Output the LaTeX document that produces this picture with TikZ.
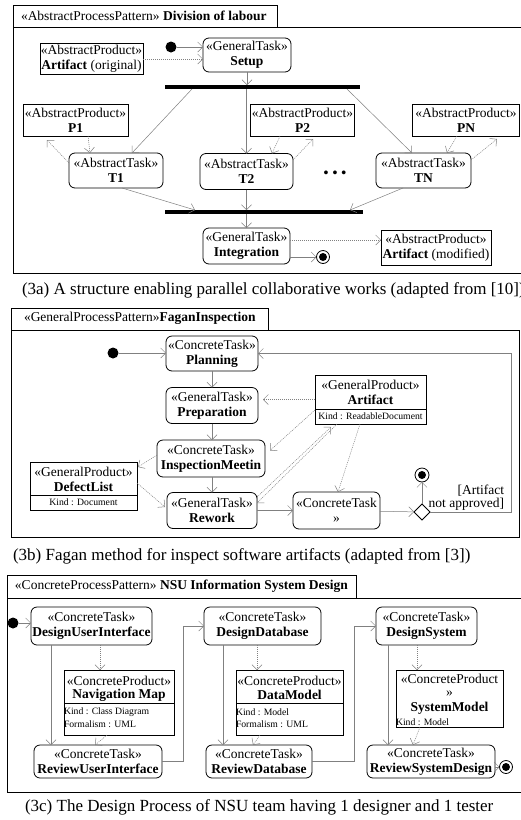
\documentclass[tikz,border=0pt]{standalone}
\usepackage{fontspec}
\setmainfont{Liberation Serif}
\usetikzlibrary{arrows.meta,shapes.geometric,calc}

\begin{document}
\begin{tikzpicture}[x=1pt,y=-1pt,
  every node/.style={inner sep=0pt, outer sep=0pt},
  lbl/.style={font=\fontsize{13.5}{15}\selectfont},
  task/.style={draw, line width=0.8pt, rounded corners=6pt, align=center, lbl},
  prod/.style={draw, line width=0.8pt},
  small/.style={font=\fontsize{9.7}{11}\selectfont},
  flow/.style={draw=gray, line width=0.5pt, -{Straight Barb[length=5pt,width=10pt]}},
  dep/.style={flow, dash pattern=on 1pt off 1pt},
  bar/.style={fill=black, minimum height=4pt},
  initial/.style={circle, fill=black, minimum size=11pt},
  final/.style={circle, draw, line width=0.8pt, minimum size=13pt,
    path picture={\fill (path picture bounding box.center) circle (4pt);}},
  frameline/.style={draw, line width=0.8pt},
  caption/.style={font=\fontsize{17}{20}\selectfont, anchor=west},
  header/.style={lbl, anchor=west},
]
\useasboundingbox (0,0) rectangle (521,820);
\fill[white] (0,0) rectangle (521,820);

% ---------------- (3a) Division of labour ----------------
\draw[frameline] (13,5) rectangle (277,27);
\draw[frameline] (13,27) rectangle (530,273);
\node[header] (hdrA) at (21,16) {«AbstractProcessPattern» \textbf{Division of labour}};

\node[initial] (initA) at (171,47) {};
\node[task, minimum width=88pt, minimum height=34pt] (setup) at (247,55) {«GeneralTask»\\\textbf{Setup}};
\node[prod, lbl, align=center, minimum width=103pt, minimum height=31pt] (artO) at (91.5,59) {«AbstractProduct»\\\textbf{Artifact} (original)};
\node[bar, minimum width=195pt] (fork) at (262.5,87) {};

\node[prod, lbl, align=center, minimum width=105pt, minimum height=32pt] (p1) at (75.5,120) {«AbstractProduct»\\\textbf{P1}};
\node[prod, lbl, align=center, minimum width=104pt, minimum height=32pt] (p2) at (302.5,120) {«AbstractProduct»\\\textbf{P2}};
\node[prod, lbl, align=center, minimum width=107pt, minimum height=32pt] (pn) at (466,120) {«AbstractProduct»\\\textbf{PN}};

\node[task, minimum width=94pt, minimum height=35pt] (t1) at (116,170.5) {«AbstractTask»\\\textbf{T1}};
\node[task, minimum width=93pt, minimum height=36pt] (t2) at (246.5,171.5) {«AbstractTask»\\\textbf{T2}};
\node[task, minimum width=95pt, minimum height=35pt] (tn) at (423.5,170.5) {«AbstractTask»\\\textbf{TN}};
\node[font=\fontsize{14}{14}\selectfont\bfseries] (dots) at (335,174) {•\hspace{4pt}•\hspace{4pt}•};

\node[bar, minimum width=198pt] (join) at (264,212) {};
\node[task, minimum width=87pt, minimum height=36pt] (integ) at (246.5,246) {«GeneralTask»\\\textbf{Integration}};
\node[final] (finalA) at (323,257) {};
\node[prod, lbl, align=center, minimum width=110pt, minimum height=35pt] (artM) at (436,247.5) {«AbstractProduct»\\\textbf{Artifact} (modified)};

\draw[flow] (initA) -- (initA -| setup.west);
\draw[dep] (artO.east) -- (artO.east -| setup.west);
\draw[flow] (setup.south) -- (setup.south |- fork.north);
\draw[flow] (fork.south -| 192,0) -- (t1.north -| 132,0);
\draw[flow] (fork.south -| t2.north) -- (t2.north);
\draw[flow] (fork.south -| 347,0) -- (tn.north -| 412,0);
\draw[dep] (p1.south -| 88,0) -- (t1.north -| 90,0);
\draw[dep] (t1.west |- 0,163) -- ($(p1.south -| 47,0)+(0,4)$);
\draw[dep] (p2.south -| 280,0) -- (t2.north -| 272,0);
\draw[dep] (t2.east |- 0,160) -- ($(p2.south -| 313,0)+(0,3)$);
\draw[dep] (pn.south -| 457,0) -- (tn.north -| 447,0);
\draw[dep] (tn.east |- 0,160) -- ($(pn.south -| 497,0)+(0,3)$);
\draw[flow] (t1.south -| 122,0) -- (join.north -| 195,0);
\draw[flow] (t2.south) -- (t2.south |- join.north);
\draw[flow] (tn.south -| 403,0) -- (join.north -| 350,0);
\draw[flow] (integ.north |- join.south) -- (integ.north);
\draw[dep] (integ.east |- 0,240) -- (artM.west |- 0,240);
\draw[flow] (integ.east |- finalA) -- (finalA);

\node[caption] (capA) at (22,290) {(3a) A structure enabling parallel collaborative works (adapted from [10])};

% ---------------- (3b) Fagan inspection ----------------
\draw[frameline] (11,308) rectangle (268,330);
\draw[frameline] (11,330) rectangle (519,537);
\node[header] (hdrB) at (24,318) {«GeneralProcessPattern»\textbf{FaganInspection}};

\node[initial] (initB) at (113,353) {};
\node[task, minimum width=92pt, minimum height=35pt] (plan) at (212,353.5) {«ConcreteTask»\\\textbf{Planning}};
\node[task, minimum width=92pt, minimum height=36pt] (prep) at (212,405.5) {«GeneralTask»\\\textbf{Preparation}};
\node[task, minimum width=108pt, minimum height=37pt] (insp) at (211,458.5) {«ConcreteTask»\\\textbf{InspectionMeetin}};
\node[task, minimum width=90pt, minimum height=36pt] (rework) at (212,510.5) {«GeneralTask»\\\textbf{Rework}};
\node[task, minimum width=87pt, minimum height=37pt] (ctask2) at (336.5,510.5) {«ConcreteTask\\»};

\node[prod, minimum width=111pt, minimum height=49pt] (artB) at (370.5,399.5) {};
\node[lbl] (artBs) at (370.5,384.5) {«GeneralProduct»};
\node[lbl] (artBn) at (370.5,400) {\textbf{Artifact}};
\draw[line width=0.8pt] (artB.west |- 0,409) -- (artB.east |- 0,409);
\node[small] (artBk) at (370.5,416.5) {Kind : ReadableDocument};

\node[prod, minimum width=107pt, minimum height=48pt] (defect) at (83.5,486) {};
\node[lbl] (defs) at (83.5,472) {«GeneralProduct»};
\node[lbl] (defn) at (83.5,487) {\textbf{DefectList}};
\draw[line width=0.8pt] (defect.west |- 0,495) -- (defect.east |- 0,495);
\node[small] (defk) at (83.5,502.5) {Kind : Document};

\node[diamond, draw, line width=0.8pt, minimum size=16pt] (dec) at (422,512) {};
\node[final, minimum size=14pt] (finalB) at (422,475) {};
\node[lbl, anchor=east, align=right, font=\fontsize{13.5}{13}\selectfont] (guard) at (504,497.5) {[Artifact\\not approved]};

\draw[flow] (initB) -- (initB -| plan.west);
\draw[flow] (plan) -- (prep);
\draw[flow] (prep.south) -- (prep.south |- insp.north);
\draw[flow] (insp.south -| rework.north) -- (rework.north);
\draw[dep] (artB.west) -- ($(prep.east |- artB.west)+(5,0)$);
\draw[dep] (artB.west |- 0,410) -- ($(insp.east)+(5,-8)$);
\draw[dep] (rework.north east |- 0,497) -- ($(artB.south -| 331,0)+(0,3)$);
\draw[dep] (artB.south -| 337,0) -- (rework.east |- 0,503);
\draw[dep] (artB.south -| 360,0) -- (ctask2.north -| 338,0);
\draw[dep] (insp.west |- 0,455) -- ($(defect.north east)+(1,5)$);
\draw[dep] (defect.east |- 0,483) -- ($(rework.west |- 0,507)+(-2,0)$);
\draw[flow] (rework) -- (ctask2);
\draw[flow] (ctask2) -- (dec);
\draw[flow] (dec) -- (finalB);
\draw[flow] (dec.east) -- (dec.east -| 511,0) |- (plan.east);

\node[caption] (capB) at (13,556) {(3b) Fagan method for inspect software artifacts (adapted from [3])};

% ---------------- (3c) NSU design process ----------------
\draw[frameline] (7,575) rectangle (356,598);
\draw[frameline] (7,598) rectangle (530,792);
\node[header] (hdrC) at (15,586) {«ConcreteProcessPattern» \textbf{NSU Information System Design}};

\node[initial] (initC) at (13,623) {};
\node[task, minimum width=121pt, minimum height=38pt] (dui) at (91.5,626) {«ConcreteTask»\\\textbf{DesignUserInterface}};
\node[task, minimum width=117pt, minimum height=38pt] (ddb) at (262.5,626) {«ConcreteTask»\\\textbf{DesignDatabase}};
\node[task, minimum width=101pt, minimum height=38pt] (dsys) at (426.5,626) {«ConcreteTask»\\\textbf{DesignSystem}};

\node[prod, minimum width=110pt, minimum height=65pt] (nav) at (119,702.5) {};
\node[lbl] (navs) at (119,681) {«ConcreteProduct»};
\node[lbl] (navn) at (119,695) {\textbf{Navigation Map}};
\draw[line width=0.8pt] (nav.west |- 0,703) -- (nav.east |- 0,703);
\node[small, anchor=west] (navk) at (nav.west |- 0,712) {Kind : Class Diagram};
\node[small, anchor=west] (navf) at (nav.west |- 0,724) {Formalism : UML};

\node[prod, minimum width=107pt, minimum height=65pt] (dmod) at (289.5,702.5) {};
\node[lbl] (dmods) at (289.5,681) {«ConcreteProduct»};
\node[lbl] (dmodn) at (289.5,695) {\textbf{DataModel}};
\draw[line width=0.8pt] (dmod.west |- 0,703) -- (dmod.east |- 0,703);
\node[small, anchor=west] (dmodk) at (dmod.west |- 0,712) {Kind : Model};
\node[small, anchor=west] (dmodf) at (dmod.west |- 0,724) {Formalism : UML};

\node[prod, minimum width=107pt, minimum height=57pt] (smod) at (449.5,698.5) {};
\node[lbl, align=center, font=\fontsize{13.5}{12.5}\selectfont] (smodt) at (449.5,694.5) {«ConcreteProduct\\»\\[2.5pt]\textbf{SystemModel}};
\node[small, anchor=west] (smodk) at (smod.west |- 0,722) {Kind : Model};

\node[task, minimum width=128pt, minimum height=33pt] (rui) at (98,761.5) {«ConcreteTask»\\\textbf{ReviewUserInterface}};
\node[task, minimum width=106pt, minimum height=33pt] (rdb) at (259,761.5) {«ConcreteTask»\\\textbf{ReviewDatabase}};
\node[task, minimum width=128pt, minimum height=33pt] (rsd) at (431,761.5) {«ConcreteTask»\\\textbf{ReviewSystemDesign}};
\node[final] (finalC) at (506,767) {};

\draw[flow] (initC) -- (initC -| dui.west);
\draw[flow] (dui.south -| 51,0) -- (rui.north -| 51,0);
\draw[dep] (dui.south -| 100,0) -- (nav.north -| 100,0);
\draw[dep] (nav.south -| 107,0) -- (rui.north -| 95,0);
\draw[flow] (rui.east) -- ++(21,0) |- (ddb.west);
\draw[flow] (ddb.south -| 223,0) -- (rdb.north -| 223,0);
\draw[dep] (ddb.south -| 257,0) -- (dmod.north -| 257,0);
\draw[dep] (dmod.south -| 260,0) -- (rdb.north -| 253,0);
\draw[flow] (rdb.east) -- ++(42,0) |- (dsys.west);
\draw[flow] (dsys.south -| 388,0) -- (rsd.north -| 388,0);
\draw[dep] (dsys.south -| 417,0) -- (smod.north -| 417,0);
\draw[dep] (smod.south -| 420,0) -- (rsd.north -| 413,0);
\draw[flow] (rsd.east |- finalC) -- (finalC);

\node[caption] (capC) at (25,807) {(3c) The Design Process of NSU team having 1 designer and 1 tester};

\end{tikzpicture}
\end{document}
